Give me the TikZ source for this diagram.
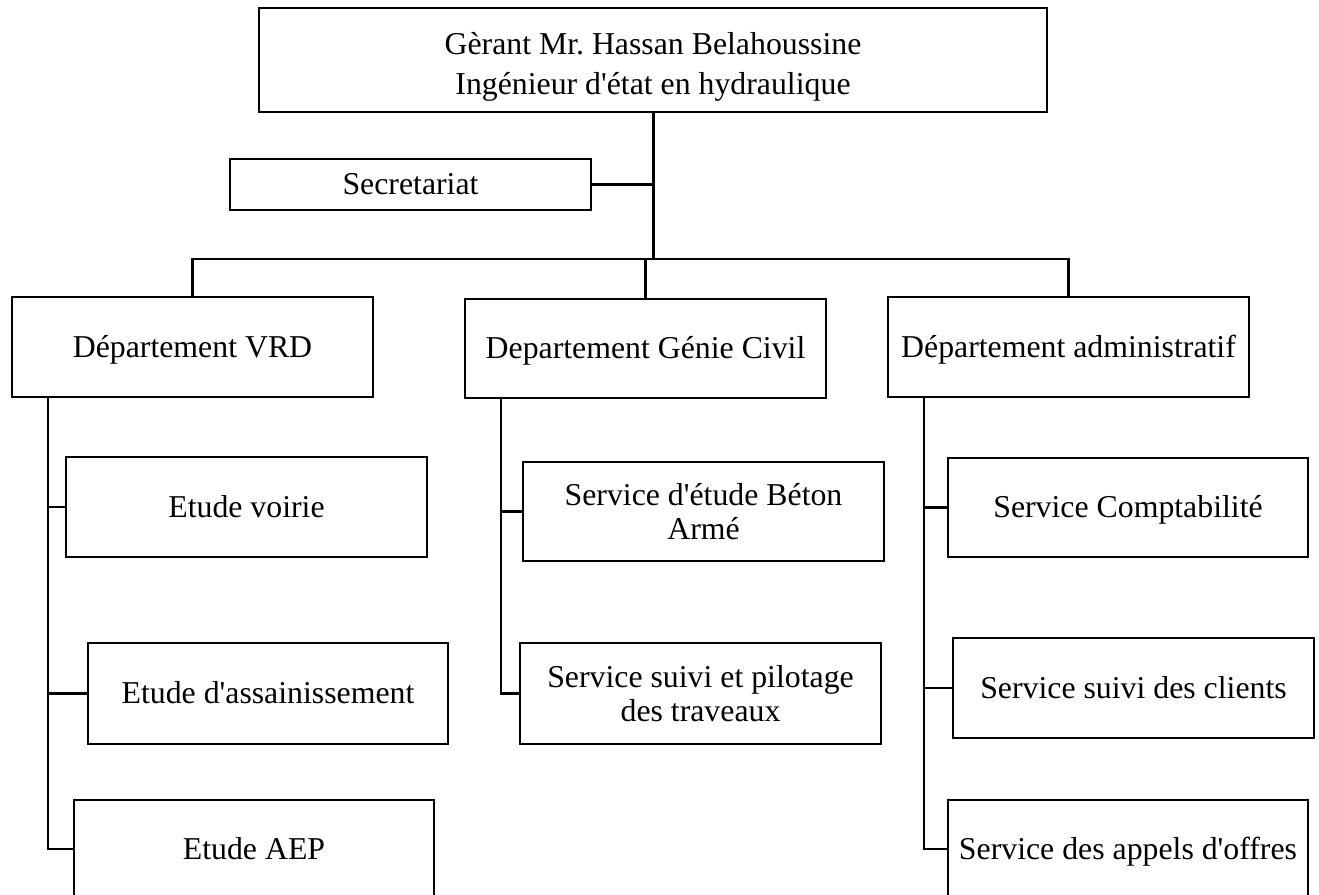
\documentclass[tikz,border=0pt]{standalone}
\usepackage{fontspec}
\setmainfont{Liberation Serif}
\newcommand{\ap}{\textquotesingle}
\begin{document}
\begin{tikzpicture}[x=1pt,y=-1pt,
  box/.style={draw, line width=2.2pt, inner sep=0pt, align=center,
    font=\fontsize{31.8}{34}\selectfont},
  one/.style={text height=26pt, text depth=6pt},
  link/.style={line width=2.4pt},
  trunk/.style={line width=3pt}]
\useasboundingbox (0,0) rectangle (1319,894);
\clip (0,0) rectangle (1319,894);
% top
\node[box, minimum width=788pt, minimum height=104pt,
  font=\fontsize{31.8}{40}\selectfont] (top) at (653,60)
  {\rule{0pt}{36pt}Gèrant Mr.\ Hassan Belahoussine\\Ingénieur d\ap état en hydraulique};
\node[box, one, minimum width=361pt, minimum height=51pt] (sec) at (410.5,184.5) {Secretariat};
% departments
\node[box, one, minimum width=361pt, minimum height=100pt] (vrd) at (192.5,347) {Département VRD};
\node[box, one, minimum width=361pt, minimum height=99pt] (gc) at (645.5,348.5) {Departement Génie Civil};
\node[box, one, minimum width=361pt, minimum height=100pt] (adm) at (1068.5,347) {Département administratif};
% VRD services
\node[box, one, minimum width=361pt, minimum height=100pt] (voirie) at (246.5,507) {Etude voirie};
\node[box, one, minimum width=360pt, minimum height=101pt] (assain) at (268,693.5) {Etude d\ap assainissement};
\node[box, one, minimum width=360pt, minimum height=98pt] (aep) at (254,849) {Etude AEP};
% GC services
\node[box, minimum width=361pt, minimum height=99pt] (beton) at (703.5,511.5) {Service d\ap étude Béton\\Armé};
\node[box, minimum width=361pt, minimum height=101pt] (pilot) at (700.5,693.5) {Service suivi et pilotage\\des traveaux};
% admin services
\node[box, one, minimum width=360pt, minimum height=99pt] (compta) at (1128,507.5) {Service Comptabilité};
\node[box, one, minimum width=361pt, minimum height=100pt] (clients) at (1133.5,688) {Service suivi des clients};
\node[box, one, minimum width=360pt, minimum height=98pt] (appels) at (1128,849) {Service des appels d\ap offres};
% connectors
\coordinate (hub) at (653,259);
\draw[trunk] (top.south) -- (hub);
\draw[link] (sec.east) -- (sec.east -| hub);
\draw[link] (vrd.north) -- (vrd.north |- hub) -- (adm.north |- hub) -- (adm.north);
\draw[link] (gc.north |- hub) -- (gc.north);
\coordinate (vs) at ([xshift=37pt]vrd.south west);
\coordinate (gs) at ([xshift=37pt]gc.south west);
\coordinate (as) at ([xshift=37pt]adm.south west);
\draw[link] (vs) |- (aep.west);
\draw[link] (voirie.west) -- (voirie.west -| vs);
\draw[link] (assain.west) -- (assain.west -| vs);
\draw[link] (gs) |- (pilot.west);
\draw[link] (beton.west) -- (beton.west -| gs);
\draw[link] (as) |- (appels.west);
\draw[link] (compta.west) -- (compta.west -| as);
\draw[link] (clients.west) -- (clients.west -| as);
\end{tikzpicture}
\end{document}
